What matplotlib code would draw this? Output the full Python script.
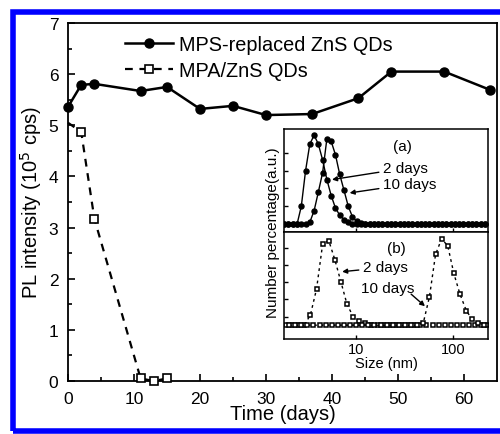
import matplotlib
matplotlib.use("Agg")
import matplotlib.pyplot as plt
from matplotlib.patches import Rectangle

plt.rcParams['font.family'] = ['Liberation Sans', 'DejaVu Sans']

# ---------------- main chart data ----------------
days_mps = [0, 2, 4, 11, 15, 20, 25, 30, 37, 44, 49, 57, 64]
pl_mps = [5.36, 5.79, 5.81, 5.67, 5.75, 5.32, 5.38, 5.20, 5.22, 5.53, 6.05, 6.05, 5.69]
days_mpa = [0, 2, 4, 11, 13, 15]
pl_mpa = [5.05, 4.87, 3.17, 0.05, 0.0, 0.05]

label_mps = "MPS-replaced ZnS QDs"
label_mpa = "MPA/ZnS QDs"

# ---------------- inset (a) data ----------------
size_a = [1.82, 2.01, 2.23, 2.47, 2.73, 3.02, 3.34, 3.70, 4.09, 4.53,
          5.01, 5.55, 6.14, 6.79, 7.52, 8.32, 9.20, 10.2, 11.3, 12.5,
          13.8, 15.3, 16.9, 18.7, 20.7, 22.9, 25.4, 28.1, 31.1, 34.4,
          38.1, 42.1, 46.6, 51.6, 57.1, 63.2, 69.9, 77.4, 85.6, 94.8,
          104.9, 116, 128, 142, 157, 174, 193, 213]
a_2days = [0, 0, 0, 0, 0.2, 0.6, 0.9, 1.0, 0.9, 0.72,
           0.5, 0.32, 0.18, 0.1, 0.05, 0.02, 0, 0, 0, 0,
           0, 0, 0, 0, 0, 0, 0, 0, 0, 0,
           0, 0, 0, 0, 0, 0, 0, 0, 0, 0,
           0, 0, 0, 0, 0, 0, 0, 0]
a_10days = [0, 0, 0, 0, 0, 0, 0.02, 0.15, 0.36, 0.58,
            0.96, 0.93, 0.78, 0.56, 0.38, 0.2, 0.08, 0.03, 0.01, 0,
            0, 0, 0, 0, 0, 0, 0, 0, 0, 0,
            0, 0, 0, 0, 0, 0, 0, 0, 0, 0,
            0, 0, 0, 0, 0, 0, 0, 0]

# ---------------- inset (b) data ----------------
size_b2 = [1.90, 2.20, 2.54, 2.93, 3.39, 3.92, 4.53, 5.24, 6.05, 7.0,
           8.09, 9.35, 10.8, 12.5, 14.4, 16.7, 19.3, 22.3, 25.8, 29.8,
           34.4, 39.8, 46.0, 53.2, 61.5, 71.0, 82.1, 94.9, 110, 127,
           146, 169, 196, 226]
b_2days = [0, 0, 0, 0, 0.12, 0.42, 0.94, 0.98, 0.76, 0.5,
           0.24, 0.1, 0.05, 0.02, 0, 0, 0, 0, 0, 0,
           0, 0, 0, 0, 0, 0, 0, 0, 0, 0,
           0, 0, 0, 0]
size_b10 = [2.04, 2.36, 2.73, 3.15, 3.64, 4.21, 4.87, 5.63, 6.50, 7.52,
            8.70, 10.1, 11.6, 13.4, 15.5, 17.9, 20.7, 24.0, 27.7, 32.0,
            37.0, 42.8, 49.5, 57.2, 66.1, 76.3, 88.3, 102, 118, 137,
            157, 182, 211]
b_10days = [0, 0, 0, 0, 0, 0, 0, 0, 0, 0,
            0, 0, 0, 0, 0, 0, 0, 0, 0, 0,
            0, 0, 0.03, 0.33, 0.82, 1.0, 0.92, 0.6, 0.36, 0.17,
            0.07, 0.02, 0]

W, H = 500, 435
fig = plt.figure(figsize=(W / 100, H / 100), dpi=100)
fig.patch.set_facecolor('white')

def fx(px):
    return px / W

def fy(py):
    return 1 - py / H

# blue frame
fig.patches.append(Rectangle((fx(12.5), fy(431.5)), fx(520) - fx(12.5), fy(12.5) - fy(431.5),
                             transform=fig.transFigure, fill=False, edgecolor='#0000ff',
                             linewidth=4.0, zorder=0))

# ---------------- main axes ----------------
ax = fig.add_axes([fx(68), fy(382), fx(497) - fx(68), fy(24) - fy(382)])
ax.plot(days_mps, pl_mps, '-', color='black', lw=1.8, marker='o', ms=6.5,
        mfc='black', mec='black', label=label_mps, clip_on=False, zorder=3)
ax.plot(days_mpa, pl_mpa, color='black', lw=1.6, ls=(0, (3.5, 3)), marker='s', ms=5.5,
        mfc='white', mec='black', mew=1.2, markevery=[1, 2, 3, 4, 5],
        label=label_mpa, clip_on=False, zorder=3)
ax.set_xlim(0, 65)
ax.set_ylim(0, 7)
ax.set_xticks([0, 10, 20, 30, 40, 50, 60])
ax.set_xticks([5, 15, 25, 35, 45, 55], minor=True)
ax.set_yticks([0, 1, 2, 3, 4, 5, 6, 7])
ax.set_yticks([0.5, 1.5, 2.5, 3.5, 4.5, 5.5, 6.5], minor=True)
ax.tick_params(which='both', direction='in', top=False, right=False, width=1.2)
ax.tick_params(which='major', length=5, labelsize=12.5, pad=7)
ax.tick_params(which='minor', length=3)
for s in ax.spines.values():
    s.set_linewidth(1.3)
ax.set_xlabel("Time (days)", fontsize=14.5, labelpad=-1)
ax.set_ylabel("PL intensity (10$^5$ cps)", fontsize=14.5, labelpad=3)
leg = ax.legend(loc='upper left', bbox_to_anchor=(0.115, 0.988), frameon=False,
                fontsize=14.3, handlelength=2.4, handletextpad=0.3, labelspacing=0.35,
                borderaxespad=0)

# ---------------- inset axes ----------------
xl = (1.81, 229.6)
axa = fig.add_axes([fx(284), fy(233), fx(488) - fx(284), fy(130) - fy(233)])
axb = fig.add_axes([fx(284), fy(340), fx(488) - fx(284), fy(233) - fy(340)])

axa.plot(size_a, a_2days, '-', color='black', lw=1.0, marker='o', ms=3.6, mfc='black', mec='black')
axa.plot(size_a, a_10days, '-', color='black', lw=1.0, marker='o', ms=3.6, mfc='black', mec='black')
axb.plot(size_b2, b_2days, color='black', lw=1.0, ls=(0, (2, 2.5)), marker='s', ms=3.4,
         mfc='white', mec='black', mew=1.1)
axb.plot(size_b10, b_10days, color='black', lw=1.0, ls=(0, (2, 2.5)), marker='s', ms=3.4,
         mfc='white', mec='black', mew=1.1)

for a in (axa, axb):
    a.set_xscale('log')
    a.set_xlim(*xl)
    a.set_xticks([10, 100])
    a.set_xticks([], minor=True)
    a.tick_params(which='both', direction='in', top=False, right=False, length=3, width=1.0)
    for s in a.spines.values():
        s.set_linewidth(1.1)

axa.set_ylim(-0.09, 1.07)
axa.set_yticks([0.2, 0.4, 0.6, 0.8])
axa.set_yticklabels([])
axa.set_xticklabels([])
axb.set_ylim(-0.16, 1.08)
axb.set_yticks([0.1, 0.3, 0.5, 0.7, 0.9])
axb.set_yticklabels([])
axb.set_xticklabels(['10', '100'])
axb.tick_params(labelsize=10.5, pad=2)
axb.set_xlabel("Size (nm)", fontsize=10.5, labelpad=0)

fig.text(fx(273), fy(233), "Number percentage(a.u.)", rotation=90, fontsize=11,
         ha='center', va='center')

tfs = 11
axa.text(24, 0.88, "(a)", fontsize=tfs, ha='left', va='center')
axa.annotate("2 days", xy=(5.66, 0.5), xytext=(19.0, 0.63), fontsize=tfs, ha='left', va='center',
             arrowprops=dict(arrowstyle='-|>', color='black', lw=1.0, mutation_scale=7,
                             shrinkA=1, shrinkB=0))
axa.annotate("10 days", xy=(8.6, 0.35), xytext=(19.0, 0.45), fontsize=tfs, ha='left', va='center',
             arrowprops=dict(arrowstyle='-|>', color='black', lw=1.0, mutation_scale=7,
                             shrinkA=1, shrinkB=0))
axb.text(20.9, 0.9, "(b)", fontsize=tfs, ha='left', va='center')
axb.annotate("2 days", xy=(7.2, 0.62), xytext=(11.8, 0.67), fontsize=tfs, ha='left', va='center',
             arrowprops=dict(arrowstyle='-|>', color='black', lw=1.0, mutation_scale=7,
                             shrinkA=1, shrinkB=0))
axb.text(11.3, 0.43, "10 days", fontsize=tfs, ha='left', va='center')
axb.annotate("", xy=(51.4, 0.22), xytext=(37, 0.36),
             arrowprops=dict(arrowstyle='-|>', color='black', lw=1.0, mutation_scale=7,
                             shrinkA=0, shrinkB=0))

fig.savefig("out.png", dpi=100, facecolor='white')
